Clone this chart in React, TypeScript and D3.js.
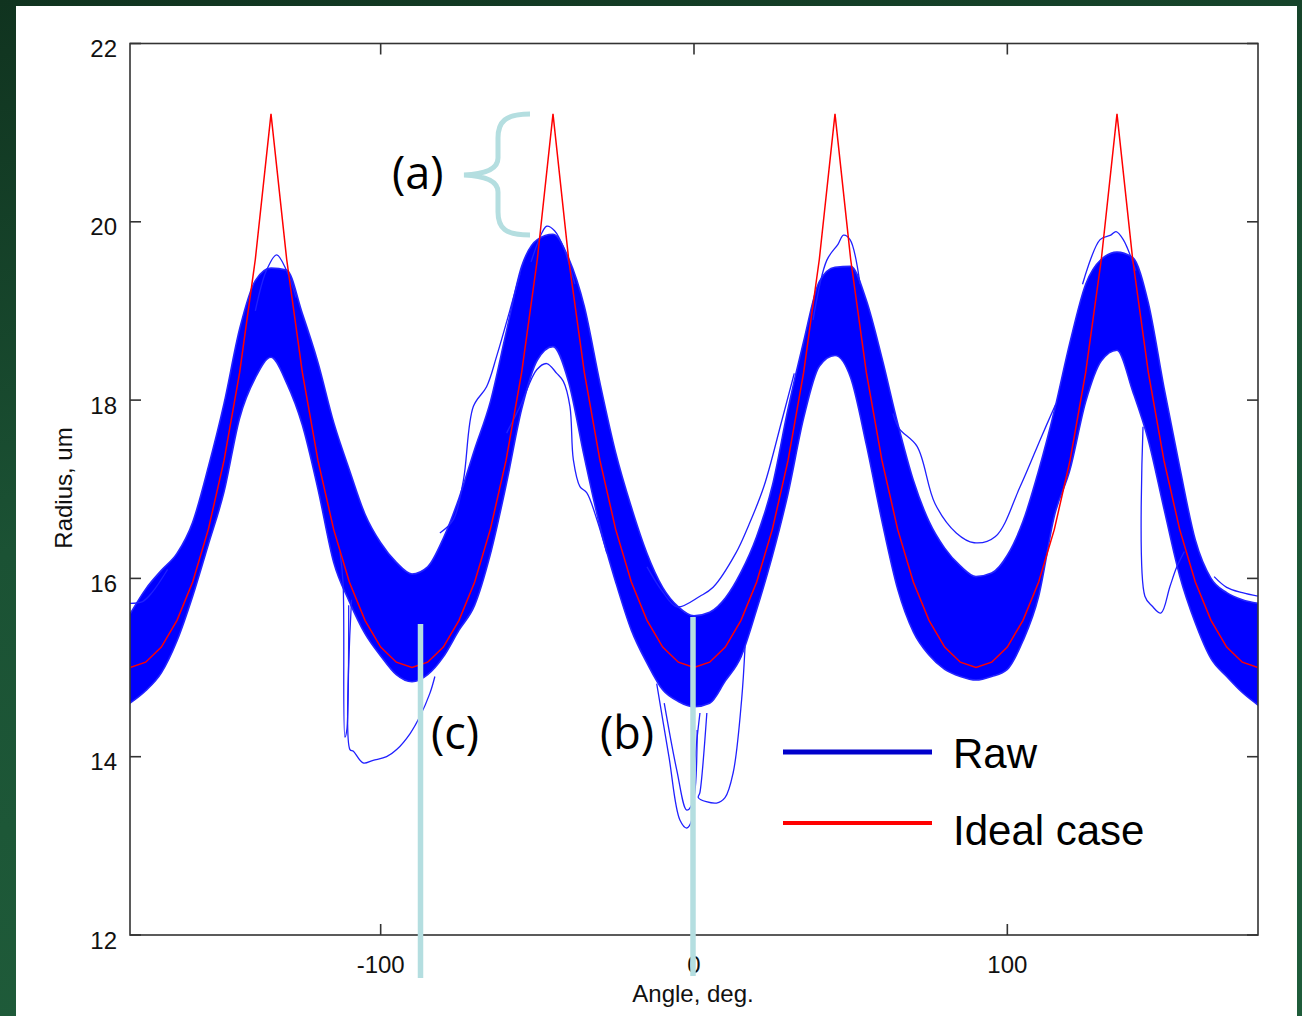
import React from 'react';
import * as d3 from 'd3';

// sample grid of the angle axis, deg
const angleDeg = [
  -180, -175, -170, -165, -160, -155, -150, -145, -140, -135, -130, -125, -120, -115, -110, -105, -100, -95,
  -90, -85, -80, -75, -70, -65, -60, -55, -50, -45, -40, -35, -30, -25, -20, -15, -10, -5,
  0, 5, 10, 15, 20, 25, 30, 35, 40, 45, 50, 55, 60, 65, 70, 75, 80, 85,
  90, 95, 100, 105, 110, 115, 120, 125, 130, 135, 140, 145, 150, 155, 160, 165, 170, 175, 180,
];

// ideal case, um
const idealRadius = [
  15.0, 15.06, 15.23, 15.53, 15.96, 16.55, 17.32, 18.31, 19.58, 21.21, 19.58, 18.31, 17.32, 16.55, 15.96, 15.53, 15.23, 15.06,
  15.0, 15.06, 15.23, 15.53, 15.96, 16.55, 17.32, 18.31, 19.58, 21.21, 19.58, 18.31, 17.32, 16.55, 15.96, 15.53, 15.23, 15.06,
  15.0, 15.06, 15.23, 15.53, 15.96, 16.55, 17.32, 18.31, 19.58, 21.21, 19.58, 18.31, 17.32, 16.55, 15.96, 15.53, 15.23, 15.06,
  15.0, 15.06, 15.23, 15.53, 15.96, 16.55, 17.32, 18.31, 19.58, 21.21, 19.58, 18.31, 17.32, 16.55, 15.96, 15.53, 15.23, 15.06, 15.0,
];

// envelope of the bundle of raw traces
const rawUpper = [
  15.6, 15.88, 16.09, 16.28, 16.63, 17.25, 17.96, 18.8, 19.34, 19.48, 19.46, 18.97, 18.42, 17.75, 17.22, 16.72, 16.4, 16.18,
  16.05, 16.13, 16.45, 16.9, 17.45, 17.98, 18.75, 19.5, 19.8, 19.86, 19.59, 19.05, 18.19, 17.41, 16.8, 16.28, 15.9, 15.68,
  15.58, 15.62, 15.78, 16.07, 16.47, 17.04, 17.9, 18.66, 19.33, 19.49, 19.5, 19.12, 18.47, 17.74, 17.1, 16.64, 16.34, 16.14,
  16.02, 16.06, 16.26, 16.64, 17.21, 17.88, 18.65, 19.3, 19.58, 19.66, 19.6, 19.09, 18.14, 17.25, 16.43, 16.0, 15.84, 15.76, 15.72,
];
const rawLower = [
  14.6, 14.74, 14.94, 15.3, 15.8, 16.38, 16.97, 17.8, 18.25, 18.48, 18.19, 17.72, 17.0, 16.18, 15.74, 15.38, 15.13, 14.92,
  14.84, 14.92, 15.12, 15.42, 15.7, 16.27, 17.04, 17.9, 18.45, 18.6, 18.2, 17.36, 16.58, 15.96, 15.42, 15.05, 14.75, 14.62,
  14.56, 14.6, 14.85, 15.12, 15.65, 16.25, 16.95, 17.8, 18.38, 18.5, 18.25, 17.5, 16.64, 15.88, 15.4, 15.14, 14.98, 14.9,
  14.86, 14.9, 14.98, 15.3, 15.8, 16.7, 17.22, 17.98, 18.44, 18.56, 18.1, 17.55, 16.78, 16.03, 15.5, 15.1, 14.9, 14.72, 14.58,
];

// single raw traces that leave the bundle
const strayAngles = [
  [-15, -10, -5.4, 1.9, 6.1, 13.3, 17.5, 22.3, 28.1, 32],
  [-11.9, -8, -4.5, -2.3, -0.7, 0.3, 1.9],
  [-9.5, -5.5, -2.3, -0.3, 1],
  [4.1, 1.9, 1.4, 7.2, 9.9, 12.5, 15.2, 16.3],
  [-113, -112, -111.4, -110.8, -110.2],
  [-109.3, -109.8, -108.7, -105.6, -102.4, -98.1, -94.9, -90.6, -87.5, -84.3, -82.7],
  [143.3, 143.9, 146.2, 149, 151.9, 154.1, 156.5],
  [63.5, 65.5, 71.2, 76.9, 83.7, 89.4, 96.2, 104.1, 110.9, 115.5],
  [-81.1, -76.8, -73.6, -70.4, -66.2, -63, -55.5],
  [-59.8, -55.5, -50.2, -47, -43.8, -41.7, -39.6, -38.5, -36.4, -34.2, -31, -27.8],
  [-140, -136.5, -133.2, -130, -127],
  [-52, -48.5, -47, -44.5, -41.5, -38],
  [38, 42.4, 46, 47.7, 49.8, 53],
  [124, 129.6, 133, 134.7, 137, 141],
  [-180, -176, -173, -168],
  [166, 170, 175, 180],
];
const strayRadius = [
  [16.13, 15.85, 15.68, 15.8, 15.9, 16.28, 16.6, 17.03, 17.78, 18.3],
  [14.82, 14.0, 13.29, 13.2, 13.29, 13.96, 14.49],
  [14.6, 13.85, 13.4, 13.5, 14.3],
  [14.49, 13.6, 13.54, 13.48, 13.54, 13.82, 14.64, 15.24],
  [16.3, 15.95, 14.22, 14.3, 15.7],
  [15.76, 14.08, 14.06, 13.93, 13.96, 14.0, 14.08, 14.26, 14.45, 14.71, 14.9],
  [17.7, 15.8, 15.69, 15.61, 15.91, 16.13, 16.3],
  [17.85, 17.68, 17.48, 16.84, 16.51, 16.4, 16.47, 17.03, 17.59, 17.96],
  [16.51, 16.66, 17.1, 17.93, 18.15, 18.49, 19.42],
  [17.63, 17.93, 18.34, 18.41, 18.3, 18.21, 17.93, 17.33, 17.03, 16.96, 16.66, 16.28],
  [19.0, 19.45, 19.63, 19.45, 19.15],
  [19.55, 19.88, 19.95, 19.9, 19.7, 19.3],
  [18.9, 19.57, 19.75, 19.85, 19.8, 19.3],
  [19.3, 19.8, 19.85, 19.89, 19.8, 19.45],
  [15.72, 15.74, 15.84, 16.1],
  [16.02, 15.9, 15.84, 15.8],
];

const xTicks = [-100, 0, 100];
const yTicks = [12, 14, 16, 18, 20, 22];

const W = 1302;
const H = 1016;
const left = 130;
const right = 1258;
const top = 43.5;
const bottom = 935;

const x = d3.scaleLinear().domain([-180, 180]).range([left, right]);
const y = d3.scaleLinear().domain([12, 22]).range([bottom, top]);

const blue = '#0000ff';
const pale = '#b4dee0';
const axisFont = '"Liberation Sans", Arial, sans-serif';
const noteFont = '"Open Sans", "Noto Sans", sans-serif';

export default function App() {
  const band = d3.area<number>()
    .x((d, i) => x(angleDeg[i]))
    .y0((d, i) => y(rawLower[i]))
    .y1(d => y(d))
    .curve(d3.curveMonotoneX)(rawUpper) as string;

  const ideal = d3.line<number>()
    .x((d, i) => x(angleDeg[i]))
    .y(d => y(d))(idealRadius) as string;

  const stray = (k: number) => d3.line<number>()
    .x((d, i) => x(strayAngles[k][i]))
    .y(d => y(d))
    .curve(d3.curveCatmullRom)(strayRadius[k]) as string;

  // curly brace marking the gap (a)
  const brace = d3.path();
  brace.moveTo(530, 114);
  brace.bezierCurveTo(505, 114, 498, 122, 498, 138);
  brace.lineTo(498, 158);
  brace.bezierCurveTo(498, 168, 488, 174, 464, 175);
  brace.bezierCurveTo(488, 176, 498, 182, 498, 192);
  brace.lineTo(498, 212);
  brace.bezierCurveTo(498, 228, 505, 235, 530, 235);

  return (
    <div style={{ position: 'absolute', left: 0, top: 0, width: W, height: H, overflow: 'hidden' }}>
      <svg width={W} height={H} style={{ display: 'block' }}>
        <defs>
          <linearGradient id="slide" x1="0" y1="0" x2="0.3" y2="1">
            <stop offset="0" stopColor="#10331f" />
            <stop offset="0.5" stopColor="#1b5234" />
            <stop offset="1" stopColor="#1f5c3a" />
          </linearGradient>
          <clipPath id="plot">
            <rect x={left} y={top} width={right - left} height={bottom - top} />
          </clipPath>
        </defs>
        <rect x={0} y={0} width={W} height={H} fill="url(#slide)" />
        <rect x={16} y={6} width={1281} height={H - 6} fill="#ffffff" />

        <g clipPath="url(#plot)">
          <path d={band} fill={blue} stroke="#2424ff" strokeWidth={1.6} strokeLinejoin="round" />
          {strayAngles.map((a, k) => (
            <path key={k} d={stray(k)} fill="none" stroke="#2020ff" strokeWidth={1.3} />
          ))}
          <path d={ideal} fill="none" stroke="#ff0000" strokeWidth={1.5} />
        </g>

        <g stroke="#333" strokeWidth={1.6} fill="none">
          <rect x={left} y={top} width={right - left} height={bottom - top} />
          {yTicks.map(t => (
            <g key={t}>
              <line x1={left} x2={left + 11} y1={y(t)} y2={y(t)} />
              <line x1={right} x2={right - 11} y1={y(t)} y2={y(t)} />
            </g>
          ))}
          {xTicks.map(t => (
            <g key={t}>
              <line x1={x(t)} x2={x(t)} y1={bottom} y2={bottom - 11} />
              <line x1={x(t)} x2={x(t)} y1={top} y2={top + 11} />
            </g>
          ))}
        </g>

        <g fontFamily={axisFont} fontSize={24} fill="#111">
          {yTicks.map(t => (
            <text key={t} x={117} y={y(t) + 13.5} textAnchor="end">{t}</text>
          ))}
          {xTicks.map(t => (
            <text key={t} x={x(t)} y={973} textAnchor="middle">{t}</text>
          ))}
          <text x={693} y={1002} textAnchor="middle">Angle, deg.</text>
          <text transform="translate(72,488) rotate(-90)" textAnchor="middle">Radius, um</text>
        </g>

        <g>
          <line x1={783} x2={932} y1={752} y2={752} stroke="#0000cc" strokeWidth={5} />
          <line x1={783} x2={932} y1={823} y2={823} stroke="#ff0000" strokeWidth={4} />
          <g fontFamily={axisFont} fontSize={42} fill="#000">
            <text x={953} y={768}>Raw</text>
            <text x={953} y={845}>Ideal case</text>
          </g>
        </g>

        <g stroke={pale} fill="none" strokeLinecap="butt">
          <path d={brace.toString()} strokeWidth={5} />
          <line x1={420.5} x2={420.5} y1={624} y2={978} strokeWidth={5.5} />
          <line x1={693} x2={693} y1={617} y2={976} strokeWidth={5.5} />
        </g>

        <g fontFamily={noteFont} fontSize={45} fill="#000">
          <text x={392} y={189}>(a)</text>
          <text x={431} y={749}>(c)</text>
          <text x={600} y={749}>(b)</text>
        </g>
      </svg>
    </div>
  );
}
